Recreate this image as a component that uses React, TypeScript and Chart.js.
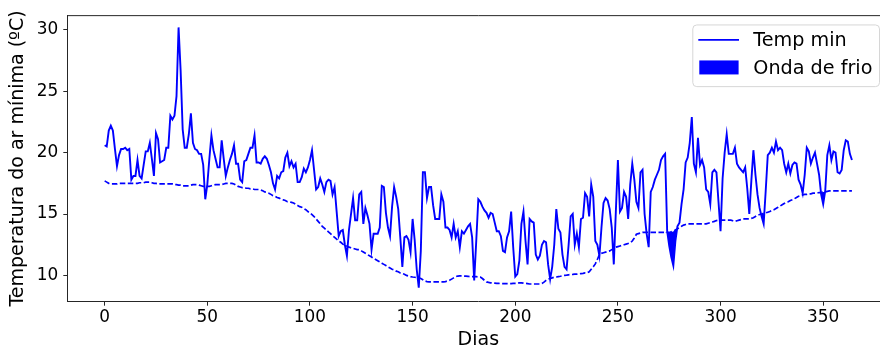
import { useEffect, useRef } from 'react';
import { Chart, registerables } from 'chart.js';

Chart.register(...registerables);

// Daily minimum air temperature (ºC), day 0 .. 364
const tempMin = [
  20.6, 20.5, 21.8, 22.2, 21.8, 20.3, 18.9, 19.8, 20.3, 20.3,
  20.4, 20.2, 20.3, 17.8, 18.1, 18.1, 19.4, 18.1, 17.9, 19.0,
  20.1, 20.1, 20.8, 19.5, 18.1, 21.6, 21.1, 19.2, 19.3, 19.4,
  20.4, 20.4, 23.0, 22.7, 23.0, 24.6, 30.2, 26.7, 21.9, 20.4,
  20.4, 21.5, 23.2, 20.8, 20.3, 20.2, 19.9, 19.9, 19.0, 16.2,
  17.4, 19.5, 21.4, 20.2, 19.5, 18.8, 18.8, 21.0, 19.5, 18.1,
  18.8, 19.4, 19.9, 20.6, 19.1, 19.1, 17.8, 17.6, 19.3, 19.4,
  19.9, 20.4, 20.4, 21.4, 19.2, 19.2, 19.1, 19.5, 19.7, 19.5,
  19.0, 18.4, 17.5, 17.0, 18.1, 17.9, 18.4, 18.5, 19.6, 20.0,
  18.9, 19.3, 18.8, 19.1, 17.6, 17.6, 18.0, 18.7, 18.4, 18.8,
  19.4, 20.2, 18.6, 17.0, 17.2, 17.9, 17.4, 16.8, 17.6, 17.8,
  17.7, 16.6, 17.2, 15.2, 13.2, 13.6, 13.7, 12.5, 11.6, 13.7,
  15.0, 16.3, 14.5, 14.5, 16.6, 16.8, 14.2, 15.5, 14.9, 14.2,
  12.1, 13.4, 13.4, 13.4, 13.9, 17.3, 17.2, 15.1, 13.9, 13.2,
  15.6, 17.2, 16.4, 15.4, 13.1, 10.7, 13.1, 13.2, 12.9, 11.9,
  14.6, 12.9, 10.5, 9.0, 12.0, 18.4, 18.4, 16.3, 17.2, 17.2,
  15.7, 14.6, 14.6, 14.6, 16.6, 16.0, 13.9, 13.9, 13.7, 13.1,
  14.2, 13.1, 13.6, 12.3, 13.6, 13.4, 13.7, 14.0, 14.2, 13.1,
  9.6, 12.8, 16.2, 16.0, 15.6, 15.3, 15.1, 14.7, 15.1, 15.0,
  14.3, 13.6, 13.6, 13.2, 12.0, 11.9, 13.1, 13.6, 15.2, 12.3,
  9.9, 10.1, 11.2, 14.2, 15.2, 12.8, 10.9, 14.6, 14.4, 14.3,
  11.7, 11.3, 11.6, 12.5, 12.8, 12.7, 10.9, 9.7, 10.7, 12.5,
  15.4, 13.8, 13.5, 11.7, 10.7, 10.5, 12.5, 14.8, 15.0, 12.5,
  13.4, 12.3, 14.6, 14.7, 16.7, 16.4, 14.8, 17.4, 16.4, 12.8,
  12.5, 11.6, 13.9, 15.9, 16.3, 16.1, 15.4, 13.9, 10.9, 15.2,
  19.4, 15.2, 15.5, 16.8, 16.4, 14.6, 17.4, 19.1, 17.8, 16.0,
  15.5, 18.4, 18.6, 15.0, 13.4, 12.3, 16.8, 17.2, 17.8, 18.2,
  18.6, 19.4, 19.7, 19.9, 13.6, 12.4, 11.5, 10.8, 12.8, 14.0,
  14.3, 15.8, 17.0, 19.2, 19.6, 20.8, 22.9, 19.1, 18.4, 21.2,
  19.0, 19.4, 18.8, 17.0, 16.8, 15.8, 18.4, 18.6, 18.4, 16.0,
  13.6, 17.9, 20.0, 21.5, 19.9, 19.9, 19.9, 20.4, 19.1, 18.8,
  18.6, 18.4, 18.8, 17.1, 15.0, 17.7, 20.2, 18.2, 16.6, 15.5,
  14.8, 14.2, 16.9, 19.8, 20.0, 20.4, 20.0, 20.9, 20.2, 20.4,
  20.2, 19.1, 18.4, 19.1, 18.3, 19.0, 19.2, 19.1, 17.8, 17.4,
  16.7, 18.2, 20.4, 20.1, 19.1, 19.6, 20.0, 19.1, 18.2, 16.6,
  15.8, 16.9, 19.8, 20.6, 19.4, 20.1, 20.0, 18.4, 18.3, 18.6,
  20.2, 21.0, 20.9, 19.9, 19.4,
];

// Cold-wave threshold (dashed line), day 0 .. 364
const threshold = [
  17.7, 17.6, 17.5, 17.45, 17.45, 17.45, 17.45, 17.5, 17.5, 17.5,
  17.5, 17.5, 17.5, 17.5, 17.5, 17.5, 17.5, 17.55, 17.55, 17.55,
  17.6, 17.6, 17.6, 17.55, 17.5, 17.5, 17.45, 17.45, 17.45, 17.45,
  17.45, 17.45, 17.45, 17.45, 17.4, 17.4, 17.35, 17.35, 17.3, 17.3,
  17.3, 17.3, 17.35, 17.4, 17.4, 17.4, 17.35, 17.3, 17.25, 17.25,
  17.25, 17.25, 17.3, 17.35, 17.4, 17.4, 17.4, 17.4, 17.45, 17.5,
  17.5, 17.5, 17.5, 17.45, 17.35, 17.25, 17.2, 17.15, 17.15, 17.1,
  17.1, 17.05, 17.05, 17.0, 17.0, 17.0, 16.95, 16.9, 16.8, 16.75,
  16.7, 16.6, 16.5, 16.45, 16.35, 16.3, 16.2, 16.15, 16.1, 16.0,
  16.0, 15.95, 15.9, 15.8, 15.7, 15.6, 15.55, 15.45, 15.35, 15.2,
  15.1, 14.95, 14.8, 14.6, 14.4, 14.2, 14.0, 13.85, 13.7, 13.55,
  13.4, 13.25, 13.1, 12.95, 12.8, 12.7, 12.55, 12.45, 12.4, 12.3,
  12.25, 12.2, 12.15, 12.1, 12.1, 12.0, 11.9, 11.8, 11.7, 11.6,
  11.5, 11.4, 11.3, 11.2, 11.1, 11.0, 10.9, 10.8, 10.7, 10.6,
  10.5, 10.45, 10.35, 10.3, 10.2, 10.15, 10.1, 10.0, 9.95, 9.9,
  9.87, 9.85, 9.82, 9.8, 9.75, 9.65, 9.55, 9.5, 9.47, 9.47,
  9.47, 9.47, 9.47, 9.47, 9.47, 9.47, 9.5, 9.55, 9.6, 9.7,
  9.8, 9.9, 9.95, 9.97, 9.97, 9.95, 9.95, 9.93, 9.9, 9.9,
  9.9, 9.9, 9.88, 9.87, 9.75, 9.6, 9.47, 9.43, 9.4, 9.38,
  9.37, 9.35, 9.35, 9.33, 9.33, 9.33, 9.33, 9.33, 9.33, 9.35,
  9.35, 9.35, 9.4, 9.4, 9.38, 9.35, 9.33, 9.3, 9.3, 9.3,
  9.3, 9.3, 9.3, 9.35, 9.45, 9.6, 9.7, 9.75, 9.8, 9.85,
  9.87, 9.9, 9.93, 9.97, 10.0, 10.02, 10.05, 10.07, 10.08, 10.1,
  10.1, 10.12, 10.15, 10.17, 10.2, 10.2, 10.3, 10.5, 10.7, 10.94,
  11.3, 11.7, 11.8, 11.85, 11.9, 11.95, 12.0, 12.1, 12.2, 12.3,
  12.35, 12.4, 12.45, 12.5, 12.55, 12.6, 12.65, 12.8, 13.05, 13.35,
  13.4, 13.45, 13.5, 13.5, 13.5, 13.5, 13.5, 13.5, 13.5, 13.5,
  13.5, 13.5, 13.5, 13.5, 13.5, 13.5, 13.55, 13.6, 13.7, 13.8,
  13.9, 14.0, 14.1, 14.15, 14.2, 14.2, 14.2, 14.2, 14.2, 14.2,
  14.2, 14.2, 14.2, 14.2, 14.25, 14.3, 14.35, 14.4, 14.47, 14.5,
  14.5, 14.5, 14.5, 14.5, 14.5, 14.5, 14.45, 14.4, 14.45, 14.5,
  14.55, 14.6, 14.6, 14.6, 14.6, 14.65, 14.7, 14.8, 14.9, 14.96,
  15.0, 15.05, 15.1, 15.15, 15.2, 15.3, 15.35, 15.45, 15.55, 15.65,
  15.75, 15.85, 15.95, 16.0, 16.1, 16.16, 16.25, 16.35, 16.45, 16.5,
  16.56, 16.6, 16.6, 16.65, 16.65, 16.7, 16.7, 16.7, 16.75, 16.75,
  16.8, 16.8, 16.85, 16.88, 16.88, 16.88, 16.88, 16.88, 16.88, 16.88,
  16.88, 16.88, 16.88, 16.88, 16.88,
];

// Cold-wave episodes (first and last day of each window)
const coldWaveStart = [273, 319, 348];
const coldWaveEnd = [279, 322, 351];

const xTicks = [0, 50, 100, 150, 200, 250, 300, 350];
const yTicks = [10, 15, 20, 25, 30];
const legendLabels = ['Temp min', 'Onda de frio'];
const xTitle = 'Dias';
const yTitle = 'Temperatura do ar mínima (ºC)';

const BLUE = '#0000ff';
const FONT = "'DejaVu Sans', sans-serif";
const AXIS = '#262626';

const framePlugin = {
  id: 'frameAndLegend',
  afterDatasetsDraw(chart: any) {
    const { ctx, chartArea: a } = chart;
    ctx.save();
    ctx.strokeStyle = AXIS;
    ctx.lineWidth = 1;
    ctx.beginPath();
    ctx.moveTo(a.left, a.top + 0.5);
    ctx.lineTo(a.right, a.top + 0.5);
    ctx.lineTo(a.right, a.bottom);
    ctx.stroke();
    ctx.restore();
  },
  afterDraw(chart: any) {
    const { ctx, chartArea: a } = chart;
    const left = a.right - 197;
    const top = a.top + 9.3;
    const w = 186.7;
    const h = 61.7;
    ctx.save();
    ctx.beginPath();
    ctx.roundRect(left + 0.5, top + 0.5, w, h, 4);
    ctx.fillStyle = 'rgba(255,255,255,0.8)';
    ctx.fill();
    ctx.strokeStyle = '#d6d6d6';
    ctx.lineWidth = 1;
    ctx.stroke();
    // line sample
    ctx.beginPath();
    ctx.strokeStyle = BLUE;
    ctx.lineWidth = 1.9;
    ctx.moveTo(left + 6, top + 15.4);
    ctx.lineTo(left + 46.7, top + 15.4);
    ctx.stroke();
    // patch sample
    ctx.fillStyle = BLUE;
    ctx.fillRect(left + 7, top + 36, 39.3, 14);
    ctx.fillStyle = '#000';
    ctx.font = `19.2px ${FONT}`;
    ctx.textBaseline = 'alphabetic';
    ctx.textAlign = 'left';
    ctx.fillText(legendLabels[0], left + 61, top + 22);
    ctx.fillText(legendLabels[1], left + 61, top + 50);
    ctx.restore();
  },
};

export default function App() {
  const ref = useRef<HTMLCanvasElement>(null);
  useEffect(() => {
    document.body.style.margin = '0';
    const pts = tempMin.map((v, i) => ({ x: i, y: v }));
    const thr = threshold.map((v, i) => ({ x: i, y: v }));
    const waves = coldWaveStart.map((s, k) => ({
      label: legendLabels[1],
      data: pts.slice(s, coldWaveEnd[k] + 1),
      borderColor: 'rgba(0,0,0,0)',
      borderWidth: 0,
      pointRadius: 0,
      backgroundColor: BLUE,
      fill: { target: 1, above: 'rgba(0,0,0,0)', below: BLUE },
    }));
    const chart = new Chart(ref.current as HTMLCanvasElement, {
      type: 'line',
      data: {
        datasets: [
          {
            label: legendLabels[0],
            data: pts,
            borderColor: BLUE,
            borderWidth: 1.9,
            pointRadius: 0,
            tension: 0,
            fill: false,
          },
          {
            label: 'limiar',
            data: thr,
            borderColor: BLUE,
            borderWidth: 1.7,
            borderDash: [5.5, 2.5],
            pointRadius: 0,
            tension: 0,
            fill: false,
          },
          ...waves,
        ],
      },
      options: {
        responsive: false,
        animation: false,
        layout: { padding: { left: 0, top: 11, right: 0.7, bottom: 0 } },
        plugins: { legend: { display: false }, tooltip: { enabled: false } },
        scales: {
          x: {
            type: 'linear',
            min: -18.2,
            max: 382.2,
            afterBuildTicks: (s: any) => {
              s.ticks = xTicks.map((v) => ({ value: v }));
            },
            afterFit: (s: any) => {
              s.height = 52.3;
            },
            grid: { display: true, drawOnChartArea: false, drawTicks: true, tickLength: 4, tickColor: AXIS },
            border: { display: true, color: AXIS, width: 1 },
            ticks: { color: '#000', font: { family: FONT, size: 16.9 }, padding: 2, maxRotation: 0 },
            title: { display: true, text: xTitle, color: '#000', font: { family: FONT, size: 19 }, padding: { top: 0, bottom: 3 } },
          },
          y: {
            type: 'linear',
            min: 7.86,
            max: 31.2,
            afterBuildTicks: (s: any) => {
              s.ticks = yTicks.map((v) => ({ value: v }));
            },
            afterFit: (s: any) => {
              s.width = 67.3;
            },
            grid: { display: true, drawOnChartArea: false, drawTicks: true, tickLength: 4, tickColor: AXIS },
            border: { display: true, color: AXIS, width: 1 },
            ticks: { color: '#000', font: { family: FONT, size: 16.9 }, padding: 5 },
            title: { display: true, text: yTitle, color: '#000', font: { family: FONT, size: 19 }, padding: { top: 7, bottom: 0 } },
          },
        },
      },
      plugins: [framePlugin],
    } as any);
    return () => chart.destroy();
  }, []);
  return (
    <div style={{ width: 880, height: 354, overflow: 'hidden', position: 'relative' }}>
      <canvas ref={ref} width={890} height={354} style={{ width: 890, height: 354, display: 'block' }} />
    </div>
  );
}
